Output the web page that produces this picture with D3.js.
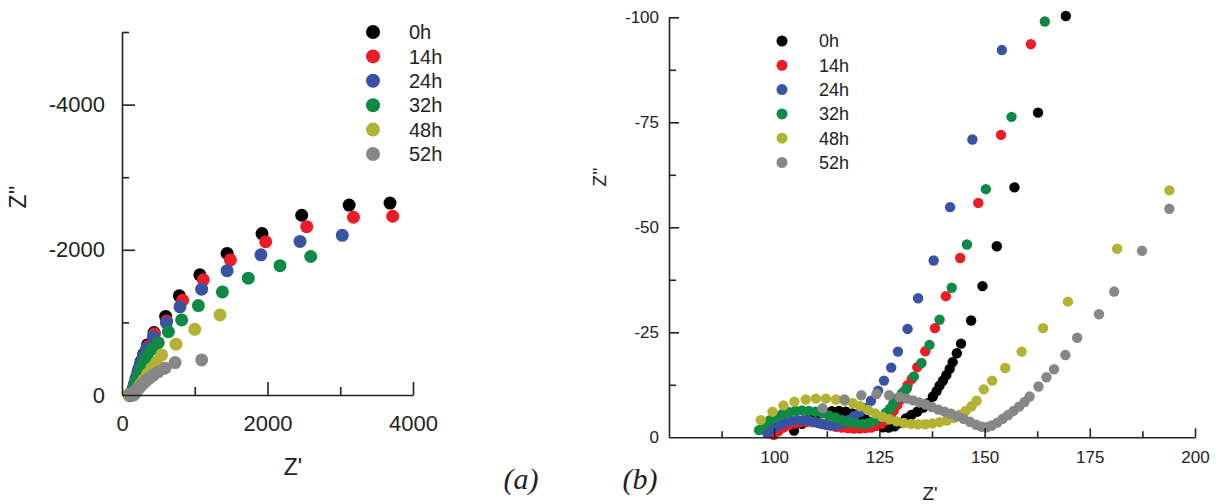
<!DOCTYPE html>
<html><head><meta charset="utf-8">
<script src="https://cdn.jsdelivr.net/npm/d3@7"></script>
<style>
html,body{margin:0;padding:0;background:#fff;}
</style></head>
<body>
<svg id="chart" width="1221" height="504"></svg>
<script>
// ---- data: [Z', Z''] pairs (ohm) ----
const seriesNames = ["0h","14h","24h","32h","48h","52h"];
const seriesColors = ["#000000","#ed1c24","#3953a4","#0e8a45","#b3b234","#878787"];

const data0h = [[104.7,-1.6],[106.6,-3.2],[108.4,-4.4],[110.2,-5.3],[112.0,-5.9],[113.7,-6.2],[115.4,-6.3],[117.0,-6.1],[118.6,-5.7],[120.1,-5.1],[121.6,-4.4],[123.0,-3.6],[124.4,-2.9],[125.8,-2.4],[127.2,-2.3],[128.6,-2.6],[130.0,-3.4],[131.3,-4.5],[132.6,-5.3],[134.0,-6.1],[135.4,-7.1],[136.5,-8.1],[137.7,-9.7],[138.6,-11.0],[139.3,-12.3],[140.1,-13.5],[140.9,-14.8],[141.7,-16.3],[142.4,-17.9],[143.4,-20.0],[144.4,-22.3],[146.8,-27.8],[149.5,-36.0],[152.9,-45.5],[157.1,-59.5],[162.7,-77.3],[169.3,-100.3],[185,-165],[205,-250],[230,-350],[260,-455],[300,-565],[350,-690],[440,-860],[600,-1082],[788,-1366],[1070,-1655],[1445,-1950],[1925,-2223],[2470,-2476],[3122,-2616],[3684,-2644]];

const data14h = [[99.9,-0.6],[101.0,-1.5],[102.2,-2.3],[103.5,-2.9],[104.9,-3.3],[106.3,-3.6],[107.7,-3.7],[109.1,-3.6],[110.5,-3.4],[111.9,-3.1],[113.3,-2.8],[114.7,-2.5],[116.1,-2.3],[117.5,-2.2],[118.9,-2.1],[120.3,-2.1],[121.7,-2.2],[123.0,-2.3],[124.2,-2.7],[125.4,-3.2],[126.6,-4.1],[127.6,-5.1],[128.4,-6.3],[129.2,-7.6],[130.0,-9.0],[130.9,-11.0],[131.7,-12.4],[132.7,-13.9],[134.0,-16.7],[135.9,-20.5],[138.2,-26.0],[140.8,-33.6],[144.2,-42.7],[148.5,-55.8],[153.9,-72.0],[161.0,-93.6],[185,-155],[205,-235],[230,-330],[262,-435],[302,-545],[355,-670],[447,-845],[614,-1020],[834,-1305],[1118,-1586],[1490,-1860],[1975,-2112],[2539,-2318],[3182,-2448],[3721,-2462]];

const data24h = [[98.3,-1.0],[99.3,-1.8],[100.4,-2.5],[101.6,-3.1],[102.9,-3.6],[104.2,-3.9],[105.6,-4.1],[107.0,-4.1],[108.4,-3.9],[109.8,-3.6],[111.2,-3.2],[112.6,-2.9],[114.0,-2.8],[115.3,-3.0],[116.6,-3.5],[117.8,-4.2],[119.0,-5.0],[120.4,-6.0],[121.7,-7.0],[123.0,-8.7],[124.7,-11.1],[126.1,-13.5],[127.8,-16.6],[129.4,-20.4],[131.7,-25.8],[134.2,-33.1],[137.9,-42.1],[141.8,-54.8],[147.1,-70.9],[154.1,-92.2],[170,-150],[192,-230],[218,-320],[250,-420],[290,-525],[340,-640],[431,-805],[610,-995],[797,-1215],[1095,-1458],[1445,-1712],[1910,-1931],[2447,-2115],[3028,-2200]];

const data32h = [[96.4,-1.7],[97.6,-3.0],[99.0,-4.1],[100.5,-4.9],[102.0,-5.6],[103.5,-6.0],[105.0,-6.3],[106.6,-6.4],[108.2,-6.3],[109.8,-6.1],[111.4,-5.7],[113.0,-5.2],[114.6,-4.7],[116.2,-4.1],[117.8,-3.6],[119.4,-3.3],[121.0,-3.2],[122.5,-3.4],[123.9,-4.0],[125.2,-4.8],[126.5,-5.8],[127.5,-6.8],[128.3,-8.0],[129.3,-9.3],[130.3,-10.4],[131.5,-11.6],[133.2,-14.5],[135.0,-17.7],[136.9,-22.0],[139.3,-28.0],[142.2,-35.6],[145.8,-45.9],[150.3,-59.1],[156.4,-76.3],[164.3,-99.0],[180,-140],[200,-200],[225,-270],[255,-350],[295,-440],[345,-540],[410,-630],[499,-720],[637,-872],[820,-1034],[1050,-1232],[1380,-1420],[1736,-1609],[2172,-1782],[2594,-1908]];

const data48h = [[96.8,-4.1],[99.6,-6.1],[102.2,-7.6],[104.8,-8.5],[107.5,-9.0],[109.9,-9.2],[112.3,-9.2],[114.7,-9.0],[116.8,-8.7],[118.7,-8.1],[120.5,-7.4],[122.3,-6.5],[124.0,-5.7],[125.7,-4.9],[127.4,-4.3],[129.1,-3.8],[130.8,-3.4],[132.5,-3.2],[134.2,-3.1],[135.9,-3.1],[137.6,-3.3],[139.3,-3.6],[141.0,-4.0],[142.6,-4.6],[144.1,-5.4],[145.5,-6.3],[146.9,-7.4],[148.1,-8.7],[149.8,-11.4],[151.8,-13.5],[154.9,-16.5],[158.8,-20.4],[163.9,-26.0],[169.8,-32.3],[181.5,-44.9],[193.9,-58.8],[210,-78],[230,-108],[260,-150],[300,-210],[350,-285],[410,-370],[475,-450],[545,-552],[742,-700],[1000,-905],[1347,-1103]];

const data52h = [[111.5,-6.9],[116.7,-9.0],[120.7,-10.0],[124.3,-10.3],[127.3,-10.0],[129.8,-9.6],[131.5,-9.2],[133.0,-8.8],[134.5,-8.3],[136.0,-7.8],[137.5,-7.2],[139.0,-6.6],[140.5,-6.1],[142.0,-5.6],[143.5,-5.0],[145.0,-4.4],[146.5,-3.7],[148.0,-3.0],[149.3,-2.5],[150.5,-2.4],[151.7,-2.8],[153.0,-3.5],[154.3,-4.4],[155.6,-5.3],[156.9,-6.3],[158.2,-7.3],[159.5,-8.4],[160.7,-9.7],[162.8,-12.1],[164.7,-14.3],[166.5,-16.2],[169.2,-19.6],[172.0,-23.7],[177.2,-29.3],[180.8,-34.7],[187.4,-44.4],[193.9,-54.4],[205,-65],[220,-82],[240,-105],[265,-132],[295,-162],[330,-195],[375,-232],[430,-275],[500,-320],[590,-370],[729,-446],[1095,-483]];

const allSeries = [data0h,data14h,data24h,data32h,data48h,data52h];

// axis ticks
const aXMajor = [2000,4000], aXMinor = [1000,3000], aXLabels = [0,2000,4000];
const aYMajor = [-2000,-4000], aYMinor = [-1000,-3000,-5000], aYLabels = [0,-2000,-4000];
const bXMajor = [100,125,150,175,200], bXMinor = [87.5,112.5,137.5,162.5,187.5];
const bYMajor = [-25,-50,-75,-100], bYMinor = [-12.5,-37.5,-62.5,-87.5], bYLabels = [0,-25,-50,-75,-100];

const SANS = "Liberation Sans, Arial, sans-serif";
const SERIF = "Liberation Serif, Times New Roman, serif";
const fmt = v => String(v);
const svg = d3.select("#chart");

function panel(cfg){
  const g = svg.append("g");
  const x = cfg.x, y = cfg.y;
  allSeries.forEach((s,i)=>{
    const pts = s.filter(cfg.filter);
    g.append("g").selectAll("circle").data(pts).join("circle")
      .attr("cx",d=>x(d[0])).attr("cy",d=>y(d[1])).attr("r",cfg.r)
      .attr("fill",seriesColors[i]);
  });
  const y0 = y.range()[0], x0 = x.range()[0];
  const ax = g.append("g").attr("transform",`translate(0,${y0})`);
  ax.call(d3.axisBottom(x).tickValues(cfg.xMajor).tickSizeInner(-cfg.xMajLen).tickSizeOuter(0).tickFormat(""));
  ax.append("g").call(d3.axisBottom(x).tickValues(cfg.xMinor).tickSizeInner(-cfg.xMinLen).tickSizeOuter(0).tickFormat("")).select(".domain").remove();
  ax.append("g").call(d3.axisBottom(x).tickValues(cfg.xLabels).tickSize(0).tickPadding(cfg.xPad).tickFormat(fmt)).select(".domain").remove();
  const ay = g.append("g").attr("transform",`translate(${x0},0)`);
  ay.call(d3.axisLeft(y).tickValues(cfg.yMajor).tickSizeInner(-cfg.yMajLen).tickSizeOuter(0).tickFormat(""));
  ay.append("g").call(d3.axisLeft(y).tickValues(cfg.yMinor).tickSizeInner(-cfg.yMinLen).tickSizeOuter(0).tickFormat("")).select(".domain").remove();
  ay.append("g").call(d3.axisLeft(y).tickValues(cfg.yLabels).tickSize(0).tickPadding(cfg.yPad).tickFormat(fmt)).select(".domain").remove();
  g.selectAll(".domain, .tick line").attr("stroke","#222").attr("stroke-width",1.6);
  g.selectAll(".tick text").style("font-size",cfg.fs+"px").style("fill","#222").style("font-family",SANS);
  g.append("text").attr("x",cfg.xtx).attr("y",cfg.xty).attr("text-anchor","middle")
    .style("font-size",cfg.tfs+"px").style("font-family",SANS).style("fill","#222").text("Z'");
  g.append("text").attr("transform",`translate(${cfg.ytx},${cfg.yty}) rotate(-90)`).attr("text-anchor","middle")
    .style("font-size",cfg.tfs+"px").style("font-family",SANS).style("fill","#222").text("Z''");
  seriesNames.forEach((n,i)=>{
    const yy = cfg.legY + i*cfg.legDy;
    g.append("circle").attr("cx",cfg.legMx).attr("cy",yy).attr("r",cfg.legR).attr("fill",seriesColors[i]);
    g.append("text").attr("x",cfg.legTx).attr("y",yy).attr("dy","0.36em")
      .style("font-size",cfg.legFs+"px").style("font-family",SANS).style("fill","#222").text(n);
  });
}

panel({
  x: d3.scaleLinear([0,4000],[122,413]),
  y: d3.scaleLinear([0,-5000],[395,32]),
  filter: d=>true, r:6.5,
  xMajor:aXMajor, xMinor:aXMinor, xLabels:aXLabels, xMajLen:13, xMinLen:8, xPad:20,
  yMajor:aYMajor, yMinor:aYMinor, yLabels:aYLabels, yMajLen:13, yMinLen:7, yPad:17,
  fs:22, tfs:23, xtx:293, xty:475, ytx:26, yty:197,
  legY:32, legDy:24.4, legMx:373, legTx:409, legR:7, legFs:20
});

panel({
  x: d3.scaleLinear([75,200],[669,1195]),
  y: d3.scaleLinear([0,-100],[437.3,17.3]),
  filter: d=>d[0]<=200 && d[1]>=-102, r:5.2,
  xMajor:bXMajor, xMinor:bXMinor, xLabels:bXMajor, xMajLen:9, xMinLen:6, xPad:14,
  yMajor:bYMajor, yMinor:bYMinor, yLabels:bYLabels, yMajLen:10, yMinLen:7, yPad:10,
  fs:17, tfs:19, xtx:930, xty:500, ytx:606, yty:177,
  legY:41, legDy:24.3, legMx:782, legTx:819, legR:5.5, legFs:18
});

svg.append("text").attr("x",521).attr("y",489).attr("text-anchor","middle")
  .style("font-family",SERIF).style("font-style","italic").style("font-size","30px").style("fill","#222").text("(a)");
svg.append("text").attr("x",640).attr("y",489).attr("text-anchor","middle")
  .style("font-family",SERIF).style("font-style","italic").style("font-size","30px").style("fill","#222").text("(b)");
</script>
</body></html>
